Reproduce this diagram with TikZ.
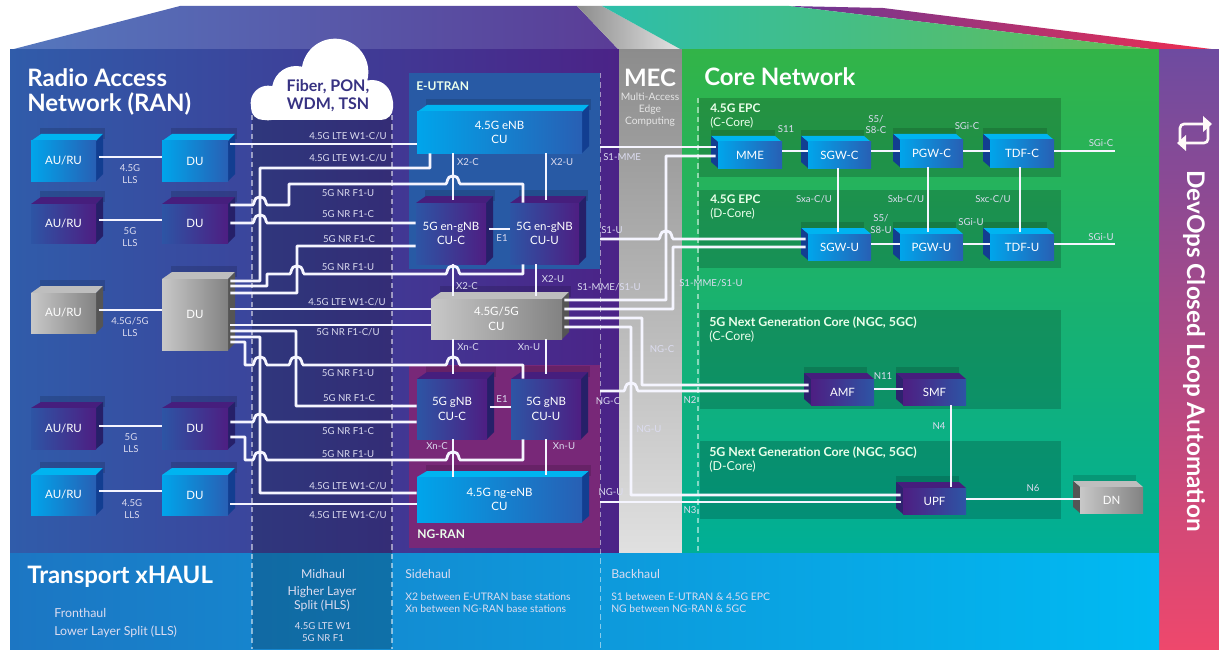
\documentclass[tikz,border=0pt]{standalone}
\usepackage{fontspec}
\setmainfont{Lato}
\definecolor{ranL}{RGB}{48,92,170}\definecolor{ranM}{RGB}{55,55,150}\definecolor{ranR}{RGB}{75,35,135}
\definecolor{roofL}{RGB}{85,120,190}\definecolor{roofR}{RGB}{90,60,150}
\definecolor{memo}{RGB}{220,220,240}
\definecolor{eutran}{RGB}{40,90,165}\definecolor{ngran}{RGB}{120,40,120}
\definecolor{cbtop}{RGB}{0,180,240}\definecolor{cbside}{RGB}{18,62,145}
\definecolor{cbL}{RGB}{0,165,235}\definecolor{cbR}{RGB}{40,95,180}
\definecolor{cptop}{RGB}{70,30,125}\definecolor{cpside}{RGB}{38,32,105}
\definecolor{cpL}{RGB}{45,85,165}\definecolor{cpR}{RGB}{78,30,130}
\definecolor{cgtop}{RGB}{190,190,190}\definecolor{cgside}{RGB}{85,85,85}
\definecolor{cgL}{RGB}{200,200,200}\definecolor{cgR}{RGB}{130,130,130}
\definecolor{cqtop}{RGB}{70,30,125}\definecolor{cqside}{RGB}{45,35,110}
\definecolor{cloudtxt}{RGB}{55,50,130}
\tikzset{
 cbface/.style={shade,left color=cbL,right color=cbR,inner sep=0pt,text=white,font=\fontsize{8.6}{11}\selectfont,align=center},
 cpface/.style={shade,left color=cpL,right color=cpR,inner sep=0pt,text=white,font=\fontsize{8.6}{11}\selectfont,align=center},
 cqface/.style={shade,left color=cpR,right color=cpL,inner sep=0pt,text=white,font=\fontsize{8.6}{11}\selectfont,align=center},
 cgface/.style={shade,left color=cgL,right color=cgR,inner sep=0pt,text=white,font=\fontsize{8.6}{11}\selectfont,align=center},
 wire/.style={draw=white!96!blue,line width=2.1pt,rounded corners=.4pt},
 lab/.style={text=memo,inner sep=0pt,font=\fontsize{7.2}{8.8}\selectfont,align=center},
 lal/.style={text=memo,inner sep=0pt,font=\fontsize{7.8}{9}\selectfont,anchor=west,align=left},
 head/.style={text=white,inner sep=0pt,font=\fontsize{18}{18.8}\selectfont\bfseries,anchor=west,align=left},
 sec/.style={text=white!92!green,inner sep=0pt,font=\fontsize{8.9}{10.5}\selectfont,anchor=west,align=left},
 dashv/.style={draw=white,opacity=.5,line width=.8pt,dash pattern=on 4pt off 3pt},
 panel/.style={fill=black,opacity=.2},
 hop/.style 2 args={insert path={-- ({#1-8},#2) .. controls ({#1-5},#2) and ({#1-7},{#2-8}) .. (#1,{#2-8}) .. controls ({#1+7},{#2-8}) and ({#1+5},#2) .. ({#1+8},#2)}},
}
\newcommand{\cuber}[8]{%
 \fill[black,opacity=.14] ({#2+9},{#6-6}) rectangle ({#4+9},{#6+5});
 \fill[#7top] (#2,#3) -- ({#2+10},#6) -- ({#4+7},#6) -- (#4,#3) -- cycle;
 \fill[#7side] (#4,#3) -- ({#4+7},#6) -- ({#4+7},{#5-(#3-#6)}) -- (#4,#5) -- cycle;
 \node[#7face,minimum width={(#4-#2)*.75pt},minimum height={(#5-#3)*.75pt}] (#1) at ({(#2+#4)/2},{(#3+#5)/2}) {#8};}
\newcommand{\cubel}[8]{%
 \fill[black,opacity=.14] ({#2-7},{#6-6}) rectangle ({#4-7},{#6+5});
 \fill[#7top] (#2,#3) -- ({#2-7},#6) -- ({#4-7},#6) -- (#4,#3) -- cycle;
 \fill[#7side] (#2,#3) -- ({#2-7},#6) -- ({#2-7},{#5-(#3-#6)}) -- (#2,#5) -- cycle;
 \node[#7face,minimum width={(#4-#2)*.75pt},minimum height={(#5-#3)*.75pt}] (#1) at ({(#2+#4)/2},{(#3+#5)/2}) {#8};}
\begin{document}
\begin{tikzpicture}[x=.75pt,y=-.75pt]
\useasboundingbox (0,0) rectangle (1219,649);
\fill[white] (0,0) rectangle (1219,649);
% roofs
\shade[left color=roofL,right color=roofR] (10,50) -- (180,6) -- (577,6) -- (619,50) -- cycle;
\shade[left color=black!45,right color=black!10] (577,6) -- (602,6) -- (682,50) -- (619,50) -- cycle;
\shade[left color={rgb,255:red,105;green,55;blue,150},right color={rgb,255:red,240;green,45;blue,80}] (789,6) -- (883,8) -- (1219,50) -- (1159,50) -- cycle;
\shade[left color={rgb,255:red,45;green,190;blue,170},right color={rgb,255:red,100;green,190;blue,85}] (602,6) -- (789,6) -- (1159,50) -- (682,50) -- cycle;
% main panels
\shade[left color=ranL,middle color=ranM,right color=ranR] (10,50) rectangle (619,553);
\shade[top color=black!45,bottom color=black!12] (619,50) rectangle (682,553);
\shade[shading angle=-45,bottom color={rgb,255:red,0;green,175;blue,150},top color={rgb,255:red,50;green,180;blue,72}] (682,50) rectangle (1159,553);
\shade[top color={rgb,255:red,110;green,75;blue,160},bottom color={rgb,255:red,238;green,72;blue,108}] (1159,50) rectangle (1219,649);
\shade[left color={rgb,255:red,28;green,118;blue,195},right color={rgb,255:red,0;green,186;blue,242}] (10,553) rectangle (1159,649);
\fill[panel] (252,115) rectangle (392,649);
% areas
\fill[eutran] (409,73) rectangle (600,269);
\fill[ngran] (409,365) rectangle (600,548);
\fill[black,opacity=.18] (699,98) rectangle (1061,177);
\fill[black,opacity=.18] (699,190) rectangle (1061,268);
\fill[black,opacity=.18] (700,310) rectangle (1061,409);
\fill[black,opacity=.18] (700,441) rectangle (1061,519);
% dashed
\draw[dashv] (252,115) -- (252,649);
\draw[dashv] (392,115) -- (392,649);
\draw[dashv] (600.5,73) -- (600.5,649);
\draw[dashv] (698,98) -- (698,553);
% cloud
\fill[white] (268,103) circle[radius=13pt] (296,90) circle[radius=18pt] (335,72) circle[radius=25pt] (372,100) circle[radius=15pt];
\fill[white,rounded corners=9pt] (251,90) rectangle (393,120);
\node[inner sep=0pt,text=cloudtxt,font=\fontsize{12}{13.3}\selectfont\bfseries,align=center] (cloud) at (328,96) {Fiber, PON,\\WDM, TSN};
% titles
\node[head] (tran) at (27,92) {Radio Access\\Network (RAN)};
\node[head] (ttra) at (27,577) {Transport xHAUL};
\node[head] (tcor) at (704,77) {Core Network};
\node[head,anchor=center] (tmec) at (650,78) {MEC};
\node[lab,font=\fontsize{7.7}{9}\selectfont,text=white!90!black] (tmc2) at (650,110) {Multi-Access\\Edge\\Computing};
\node[sec,font=\fontsize{9}{10}\selectfont\bfseries] (teut) at (416,86) {E-UTRAN};
\node[sec,font=\fontsize{9}{10}\selectfont\bfseries] (tngr) at (417,534) {NG-RAN};
% cubes RAN
\cuber{ru1}{31}{141}{96}{181}{134}{cb}{AU/RU}
\cuber{du1}{162}{141}{228}{181}{134}{cb}{DU}
\cuber{ru2}{31}{204}{96}{243}{197}{cp}{AU/RU}
\cuber{du2}{162}{204}{228}{243}{197}{cp}{DU}
\cuber{ru3}{31}{293}{96}{333}{286}{cg}{AU/RU}
\cuber{du3}{162}{279}{228}{350}{272}{cg}{DU}
\cuber{ru4}{31}{408}{96}{449}{402}{cp}{AU/RU}
\cuber{du4}{162}{408}{228}{449}{402}{cp}{DU}
\cuber{ru5}{31}{475}{96}{515}{468}{cb}{AU/RU}
\cuber{du5}{162}{475}{228}{515}{468}{cb}{DU}
\cuber{enb}{417}{112}{582}{153}{105}{cb}{4.5G eNB\\CU}
\cuber{enc}{416}{203}{486}{264}{196}{cp}{5G en-gNB\\CU-C}
\cuber{enu}{510}{203}{579}{264}{196}{cp}{5G en-gNB\\CU-U}
\cuber{gcu}{431}{299}{562}{339}{292}{cg}{4.5G/5G\\CU}
\cuber{gnc}{417}{379}{487}{439}{372}{cp}{5G gNB\\CU-C}
\cuber{gnu}{511}{379}{581}{439}{372}{cp}{5G gNB\\CU-U}
\cuber{nge}{417}{477}{582}{522}{471}{cb}{4.5G ng-eNB\\CU}
% cubes core
\cubel{mme}{718}{142}{782}{168}{136}{cb}{MME}
\cubel{sgc}{808}{142}{871}{168}{136}{cb}{SGW-C}
\cubel{pgc}{900}{140}{963}{167}{134}{cb}{PGW-C}
\cubel{tdc}{990}{140}{1054}{167}{134}{cb}{TDF-C}
\cubel{sgu}{808}{234}{871}{260}{228}{cb}{SGW-U}
\cubel{pgu}{900}{234}{963}{260}{228}{cb}{PGW-U}
\cubel{tdu}{990}{234}{1054}{260}{228}{cb}{TDF-U}
\cubel{amf}{811}{379}{874}{405}{373}{cq}{AMF}
\cubel{smf}{903}{379}{966}{405}{373}{cq}{SMF}
\cubel{upf}{903}{488}{966}{514}{482}{cq}{UPF}
\cubel{dn}{1080}{487}{1143}{513}{481}{cg}{DN}
% fronthaul
\draw[wire] ([xshift=2pt]ru1.east |- 0,157) -- (du1.west |- 0,157);
\draw[wire] ([xshift=2pt]ru2.east |- 0,220) -- (du2.west |- 0,220);
\draw[wire] ([xshift=2pt]ru3.east |- 0,310) -- (du3.west |- 0,310);
\draw[wire] ([xshift=2pt]ru4.east |- 0,426) -- (du4.west |- 0,426);
\draw[wire] ([xshift=2pt]ru5.east |- 0,491) -- (du5.west |- 0,491);
% midhaul
\draw[wire] ([xshift=1.5pt]du1.east |- 0,144) -- (enb.west |- 0,144);
\draw[wire] ([xshift=1.5pt]du3.east |- 0,281) -- (260,281) -- (260,168) -- (430,168) -- (enb.south -| 430,0);
\draw[wire] ([xshift=1.5pt]du2.east |- 0,205) [hop={260}{205}] -- (289,205) -- (289,184) [hop={453}{184}] -- (523,184) -- (enu.north -| 523,0);
\draw[wire] ([xshift=1.5pt]du2.east |- 0,223) [hop={260}{223}] -- (enc.west |- 0,223);
\draw[wire] ([xshift=1.5pt]du3.east |- 0,286) -- (267,286) -- (267,274) [hop={297}{274}] [hop={453}{274}] -- (523,274) -- (enu.south -| 523,0);
\draw[wire] ([xshift=1.5pt]du3.east |- 0,293) -- (297,293) -- (297,246) -- (enc.west |- 0,246);
\draw[wire] ([xshift=1.5pt]du3.east |- 0,309) -- (gcu.west |- 0,309);
\draw[wire] ([xshift=1.5pt]du3.east |- 0,325) -- (gcu.west |- 0,325);
\draw[wire] ([xshift=1.5pt]du3.east |- 0,331) -- (296,331) -- (296,406) -- (gnc.west |- 0,406);
\draw[wire] ([xshift=1.5pt]du3.east |- 0,337) -- (260,337) -- (260,493) -- (nge.west |- 0,493);
\draw[wire] ([xshift=1.5pt]du3.east |- 0,342) -- (245,342) -- (245,365) [hop={260}{365}] [hop={296}{365}] [hop={453}{365}] -- (523,365) -- (gnu.north -| 523,0);
\draw[wire] ([xshift=1.5pt]du4.east |- 0,422) [hop={260}{422}] -- (gnc.west |- 0,422);
\draw[wire] ([xshift=1.5pt]du4.east |- 0,437) -- (245,437) -- (245,460) [hop={260}{460}] [hop={453}{460}] -- (523,460) -- (gnu.south -| 523,0);
\draw[wire] ([xshift=1.5pt]du5.east |- 0,504) -- (nge.west |- 0,504);
% sidehaul
\draw[wire] (enb.south -| 453,0) -- (453,200);
\draw[wire] (enb.south -| 546,0) -- (546,200);
\draw[wire] ([xshift=2pt]enc.east |- 0,229) -- (enu.west |- 0,229);
\draw[wire] (enc.south -| 453,0) -- (453,296);
\draw[wire] (enu.south -| 536,0) -- (536,296);
\draw[wire] (gcu.south -| 453,0) -- (453,374);
\draw[wire] (gcu.south -| 546,0) -- (546,374);
\draw[wire] ([xshift=2pt]gnc.east |- 0,407) -- (gnu.west |- 0,407);
\draw[wire] (gnc.south -| 453,0) -- (453,477);
\draw[wire] (gnu.south -| 546,0) -- (546,475);
% backhaul
\coordinate (s1m) at (600,147);
\coordinate (s1u) at (600,239);
\coordinate (ngc) at (600,391);
\coordinate (ngu) at (600,502);
\draw[wire] (s1m) -- ([xshift=-1.5pt]mme.west |- 0,147);
\draw[wire] ([xshift=1.5pt]gcu.east |- 0,300) -- (666,300) -- (666,156) -- ([xshift=-1.5pt]mme.west |- 0,156);
\draw[wire] (s1u) [hop={666}{239}] -- ([xshift=-1.5pt]sgu.west |- 0,239);
\draw[wire] ([xshift=1.5pt]gcu.east |- 0,309) -- (673,309) -- (673,247) -- ([xshift=-1.5pt]sgu.west |- 0,247);
\draw[wire] ([xshift=1.5pt]gcu.east |- 0,318) -- (642,318) -- (642,385) -- ([xshift=-1.5pt]amf.west |- 0,385);
\draw[wire] ([xshift=1.5pt]gcu.east |- 0,327) -- (631,327) -- (631,495) -- ([xshift=-1.5pt]upf.west |- 0,495);
\draw[wire] (ngc) [hop={631}{391}] -- ([xshift=-1.5pt]amf.west |- 0,391);
\draw[wire] (ngu) -- ([xshift=-1.5pt]upf.west |- 0,502);
% core
\draw[wire] (mme.east |- 0,151) -- (sgc.west |- 0,151);
\draw[wire] (sgc.east |- 0,151) -- (pgc.west |- 0,151);
\draw[wire] (pgc.east |- 0,151) -- (tdc.west |- 0,151);
\coordinate (sgic) at (1115,151);
\coordinate (sgiu) at (1115,244);
\draw[wire] (tdc.east |- 0,151) -- (sgic);
\draw[wire] (sgu.east |- 0,244) -- (pgu.west |- 0,244);
\draw[wire] (pgu.east |- 0,244) -- (tdu.west |- 0,244);
\draw[wire] (tdu.east |- 0,244) -- (sgiu);
\draw[wire] (sgc.south -| 838,0) -- (838,232);
\draw[wire] (pgc.south -| 928,0) -- (928,232);
\draw[wire] (tdc.south -| 1020,0) -- (1020,232);
\draw[wire] (amf.east |- 0,389) -- (smf.west |- 0,389);
\draw[wire] (smf.south -| 951,0) -- (951,487);
\draw[wire] (upf.east |- 0,499) -- (dn.west |- 0,499);
% midhaul labels
\node[lab] (m1) at (348,136) {4.5G LTE W1-C/U};
\node[lab] (m2) at (348,158) {4.5G LTE W1-C/U};
\node[lab] (m3) at (348,193) {5G NR F1-U};
\node[lab] (m4) at (348,214) {5G NR F1-C};
\node[lab] (m5) at (349,239) {5G NR F1-C};
\node[lab] (m6) at (348,267) {5G NR F1-U};
\node[lab] (m7) at (347,302) {4.5G LTE W1-C/U};
\node[lab] (m8) at (348,332) {5G NR F1-C/U};
\node[lab] (m9) at (348,373) {5G NR F1-U};
\node[lab] (m10) at (349,398) {5G NR F1-C};
\node[lab] (m11) at (348,431) {5G NR F1-C};
\node[lab] (m12) at (348,454) {5G NR F1-U};
\node[lab] (m13) at (348,486) {4.5G LTE W1-C/U};
\node[lab] (m14) at (348,515) {4.5G LTE W1-C/U};
\node[lab] (f1) at (130,174) {4.5G\\LLS};
\node[lab] (f2) at (130,237) {5G\\LLS};
\node[lab] (f3) at (130,327) {4.5G/5G\\LLS};
\node[lab] (f4) at (131,443) {5G\\LLS};
\node[lab] (f5) at (132,509) {4.5G\\LLS};
% side labels
\node[lab] (x1) at (468,162) {X2-C};
\node[lab] (x2) at (562,162) {X2-U};
\node[lab] (x3) at (502,238) {E1};
\node[lab] (x4) at (467,286) {X2-C};
\node[lab] (x5) at (553,279) {X2-U};
\node[lab] (x6) at (468,347) {Xn-C};
\node[lab] (x7) at (529,347) {Xn-U};
\node[lab] (x8) at (502,399) {E1};
\node[lab] (x9) at (437,446) {Xn-C};
\node[lab] (x10) at (564,446) {Xn-U};
% backhaul labels
\node[lal,font=\fontsize{7.2}{9}\selectfont] (b1) at (603,157) {S1-MME};
\node[lal,font=\fontsize{7.2}{9}\selectfont] (b2) at (601,230) {S1-U};
\node[lab] (b3) at (609,287) {S1-MME/S1-U};
\node[lab] (b4) at (711,283) {S1-MME/S1-U};
\node[lab] (b5) at (662,349) {NG-C};
\node[lab] (b6) at (608,401) {NG-C};
\node[lab] (b7) at (649,429) {NG-U};
\node[lab] (b8) at (611,492) {NG-U};
\node[lab] (b9) at (690,400) {N2};
\node[lab] (b10) at (690,510) {N3};
% core labels
\node[sec] (c1) at (710,116) {\textbf{4.5G EPC}\\(C-Core)};
\node[sec] (c2) at (710,207) {\textbf{4.5G EPC}\\(D-Core)};
\node[sec,font=\fontsize{9.3}{10.5}\selectfont] (c3) at (709,330) {\textbf{5G Next Generation Core (NGC, 5GC)}\\(C-Core)};
\node[sec,font=\fontsize{9.3}{10.5}\selectfont] (c4) at (709,460) {\textbf{5G Next Generation Core (NGC, 5GC)}\\(D-Core)};
\node[lab] (i1) at (786,129) {S11};
\node[lab] (i2) at (876,124.5) {S5/\\S8-C};
\node[lab] (i3) at (967,126) {SGi-C};
\node[lab] (i4) at (1101,143) {SGi-C};
\node[lab] (i5) at (814,199) {Sxa-C/U};
\node[lab] (i6) at (906,199) {Sxb-C/U};
\node[lab] (i7) at (993,199) {Sxc-C/U};
\node[lab] (i8) at (881,224) {S5/\\S8-U};
\node[lab] (i9) at (971,222) {SGi-U};
\node[lab] (i10) at (1101,237) {SGi-U};
\node[lab] (i11) at (883,376) {N11};
\node[lab] (i12) at (939,426) {N4};
\node[lab] (i13) at (1033,488) {N6};
% transport
\node[lab,font=\fontsize{9.2}{10}\selectfont] (h1) at (323,574) {Midhaul};
\node[lab,font=\fontsize{9.2}{10.5}\selectfont] (h2) at (322,599) {Higher Layer\\Split (HLS)};
\node[lab] (h3) at (323,632) {4.5G LTE W1\\5G NR F1};
\node[lal,font=\fontsize{9.3}{10}\selectfont] (h4) at (54,613) {Fronthaul};
\node[lal,font=\fontsize{9.3}{10}\selectfont] (h5) at (54,632) {Lower Layer Split (LLS)};
\node[lal,font=\fontsize{9.2}{10}\selectfont] (h6) at (405,574) {Sidehaul};
\node[lal] (h7) at (405,603) {X2 between E-UTRAN base stations\\Xn between NG-RAN base stations};
\node[lal,font=\fontsize{9.2}{10}\selectfont] (h8) at (611,574) {Backhaul};
\node[lal] (h9) at (611,603) {S1 between E-UTRAN \& 4.5G EPC\\NG between NG-RAN \& 5GC};
% devops
\node[inner sep=0pt,rotate=-90,text=white,font=\fontsize{18.2}{20}\selectfont\bfseries] (dev) at (1194,351) {DevOps Closed Loop Automation};
\draw[white!90!pink,line width=2pt,rounded corners=3pt] (1180,141) -- (1180,124) -- (1205,124);
\draw[white!90!pink,line width=2pt,rounded corners=3pt] (1208,125) -- (1208,143) -- (1184,143);
\fill[white!90!pink] (1203,116) -- (1212,124) -- (1203,132) -- cycle;
\fill[white!90!pink] (1186,135) -- (1177,143) -- (1186,151) -- cycle;
\end{tikzpicture}
\end{document}
